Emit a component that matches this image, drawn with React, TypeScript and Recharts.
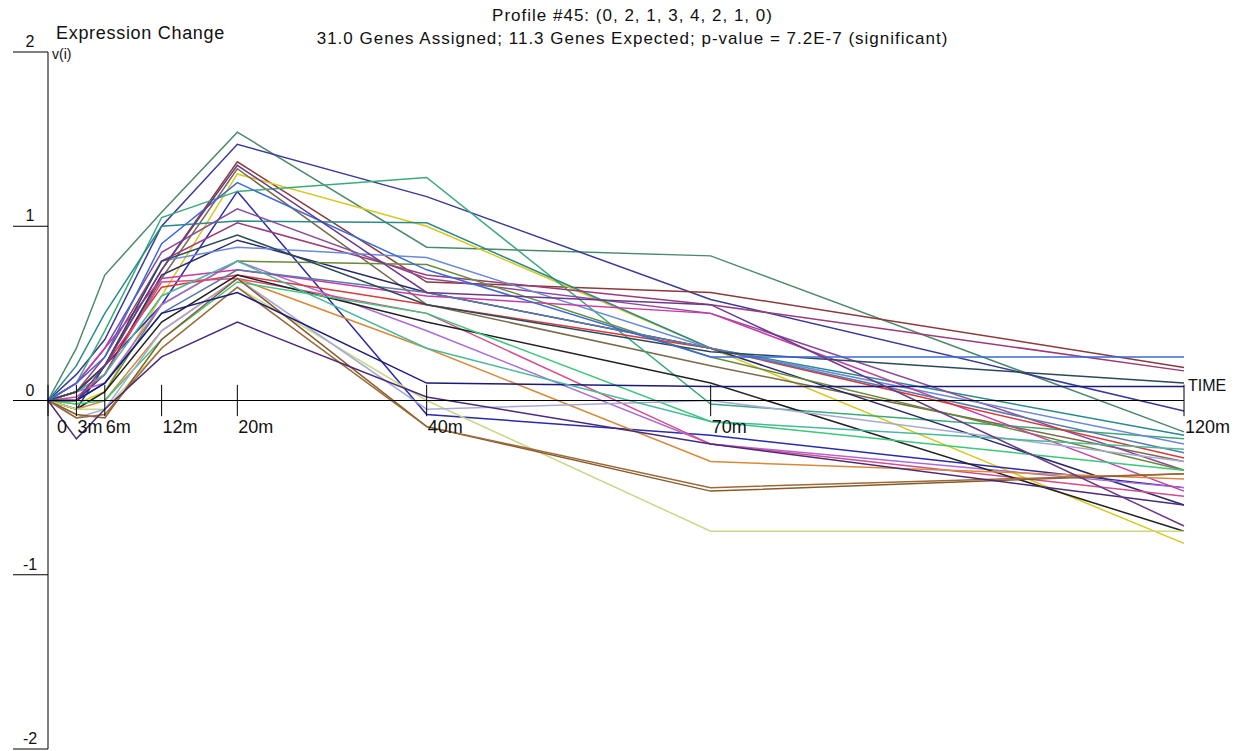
import { LineChart, Line, XAxis, YAxis, ReferenceLine } from "recharts";

// time points (minutes) and their axis labels
const times = [0, 3, 6, 12, 20, 40, 70, 120];
const timeLabels = ["0", "3m", "6m", "12m", "20m", "40m", "70m", "120m"];
const yTicks = [-2, -1, 0, 1, 2];

// expression change per gene, one value per time point
const genes: number[][] = [
  [0, 0.3, 0.72, 1.08, 1.54, 0.88, 0.83, -0.18],
  [0, 0.15, 0.35, 1.0, 1.47, 1.17, 0.58, -0.06],
  [0, 0.05, 0.2, 0.75, 1.37, 0.68, 0.62, 0.19],
  [0, -0.02, 0.05, 0.6, 1.3, 1.0, 0.3, -0.82],
  [0, 0.05, 0.15, 0.7, 1.33, 0.55, 0.2, -0.35],
  [0, -0.05, 0.2, 0.55, 1.2, -0.08, -0.2, -0.5],
  [0, 0.1, 0.4, 1.05, 1.2, 1.28, -0.02, -0.22],
  [0, 0.2, 0.5, 1.0, 1.03, 1.02, 0.3, -0.2],
  [0, 0.1, 0.3, 0.85, 1.1, 0.7, 0.5, -0.4],
  [0, 0.05, 0.25, 0.8, 1.02, 0.72, 0.55, 0.17],
  [0, 0.0, 0.15, 0.72, 0.92, 0.62, 0.3, -0.6],
  [0, 0.05, 0.2, 0.8, 0.88, 0.82, 0.3, -0.25],
  [0, -0.05, 0.05, 0.55, 0.8, 0.78, 0.25, -0.4],
  [0, 0.05, 0.1, 0.55, 0.8, 0.4, -0.25, -0.5],
  [0, 0.1, 0.3, 0.7, 0.75, 0.6, 0.5, -0.52],
  [0, 0.05, 0.2, 0.65, 0.72, 0.55, 0.3, -0.33],
  [0, 0.02, 0.15, 0.68, 0.7, 0.5, -0.25, -0.55],
  [0, 0.0, 0.1, 0.5, 0.75, 0.62, 0.3, -0.3],
  [0, -0.05, 0.05, 0.45, 0.72, 0.45, 0.1, -0.75],
  [0, -0.05, 0.0, 0.4, 0.7, 0.3, -0.35, -0.45],
  [0, -0.02, 0.0, 0.35, 0.68, 0.5, -0.12, -0.4],
  [0, -0.05, -0.05, 0.3, 0.65, 0.0, -0.75, -0.75],
  [0, -0.1, -0.05, 0.4, 0.7, -0.05, 0.0, -0.35],
  [0, -0.08, -0.1, 0.35, 0.7, -0.15, -0.52, -0.42],
  [0, -0.1, -0.08, 0.3, 0.65, -0.15, -0.5, -0.42],
  [0, 0.0, 0.1, 0.5, 0.62, 0.1, 0.08, 0.08],
  [0, -0.22, -0.05, 0.25, 0.45, 0.02, -0.25, -0.6],
  [0, 0.05, 0.15, 0.6, 0.8, 0.3, -0.12, -0.28],
  [0, 0.05, 0.2, 0.8, 0.95, 0.55, 0.28, 0.1],
  [0, 0.1, 0.25, 0.9, 1.25, 0.75, 0.25, 0.25],
  [0, 0.0, 0.2, 0.75, 1.35, 0.62, 0.55, -0.72],
];

const geneColors = [
  "#4a8a6a", "#3a3a9a", "#8a3a3a", "#d8c820", "#7a6a4a", "#2a2aaa", "#3aaa7a", "#2a8a8a",
  "#8a4a9a", "#9a3a7a", "#2a2a6a", "#6a8ad8", "#6a8a3a", "#aa6ad8", "#c83aa8", "#d83a3a",
  "#d84a8a", "#5a7aa8", "#222222", "#d88a3a", "#3ac87a", "#c8d88a", "#a8a8d8", "#8a5a2a",
  "#9a6a3a", "#1a1a7a", "#4a2a7a", "#4ab89a", "#2a4a5a", "#3a6ad8", "#6a3a8a",
];

const font = "'Liberation Sans', Arial, sans-serif";

const data = times.map((t, i) => {
  const row: Record<string, number> = { t };
  genes.forEach((g, j) => (row["g" + j] = g[i]));
  return row;
});

function YTick(p: any) {
  return (
    <g>
      <line x1={p.x - 35} y1={p.y} x2={p.x} y2={p.y} stroke="#000" />
      <text x={p.x - 18} y={p.y - 5} textAnchor="middle" fontSize={16} fontFamily={font} fill="#111">
        {p.payload.value}
      </text>
    </g>
  );
}

const timeTick = (label: string, last: boolean) => (p: any) => {
  const bottom = Math.max(p.y1, p.y2);
  const top = Math.min(p.y1, p.y2);
  return (
    <g>
      <line x1={p.x1} y1={p.y1} x2={p.x2} y2={p.y2} stroke="#000" />
      <text x={p.x1 + (label === "0" ? 9 : 1)} y={bottom + 17} fontSize={18} fontFamily={font} fill="#111">
        {label}
      </text>
      {last && (
        <text x={p.x1 + 4} y={top + 6} fontSize={16} fontFamily={font} fill="#111">
          TIME
        </text>
      )}
    </g>
  );
};

export default function App() {
  return (
    <div style={{ position: "relative", width: 1233, height: 743, fontFamily: font, color: "#111" }}>
      <div style={{ position: "absolute", left: 0, width: 1233, top: -2, textAlign: "center", fontSize: 17, lineHeight: "20px", letterSpacing: 1, paddingLeft: 8 }}>
        <div>Profile #45: (0, 2, 1, 3, 4, 2, 1, 0)</div>
        <div style={{ marginTop: 3 }}>31.0 Genes Assigned; 11.3 Genes Expected; p-value = 7.2E-7 (significant)</div>
      </div>
      <div style={{ position: "absolute", left: 48, top: 15, fontSize: 18, letterSpacing: 0.7 }}>Expression Change</div>
      <div style={{ position: "absolute", left: 44, top: 38, fontSize: 14 }}>v(i)</div>
      <LineChart width={1233} height={743} data={data} margin={{ top: 44, right: 57, bottom: 2, left: 0 }}>
        <XAxis dataKey="t" type="number" domain={[0, 120]} hide />
        <YAxis
          domain={[-2, 2]}
          ticks={yTicks}
          width={40}
          tickSize={0}
          tickMargin={0}
          tickLine={false}
          axisLine={{ stroke: "#000" }}
          tick={YTick}
          interval={0}
        />
        {genes.map((_, j) => (
          <Line
            key={j}
            dataKey={"g" + j}
            stroke={geneColors[j]}
            strokeWidth={1.5}
            dot={false}
            isAnimationActive={false}
          />
        ))}
        <ReferenceLine y={0} stroke="#000" />
        {times.map((t, i) => (
          <ReferenceLine
            key={t}
            segment={[{ x: t, y: 0.09 }, { x: t, y: -0.09 }]}
            shape={timeTick(timeLabels[i], i === times.length - 1)}
          />
        ))}
      </LineChart>
    </div>
  );
}
